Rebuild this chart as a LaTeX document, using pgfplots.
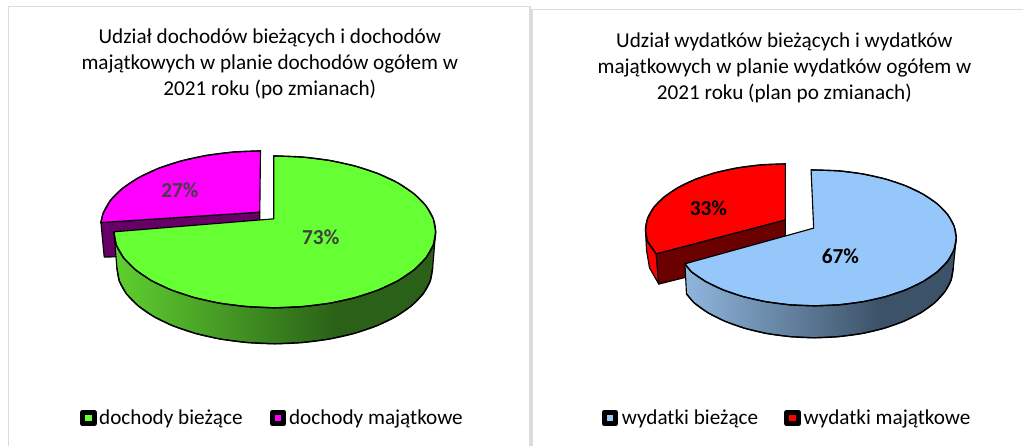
\documentclass[border=0pt]{standalone}
\usepackage{fontspec}
\setmainfont{Carlito}
\usepackage{pgfplots}
\pgfplotsset{compat=1.18}

\definecolor{gtop}{HTML}{66FF33}
\definecolor{mtop}{HTML}{FF00FF}
\definecolor{mside}{HTML}{660066}
\definecolor{btop}{HTML}{95C7FB}
\definecolor{rtop}{HTML}{FF0000}
\definecolor{rside}{HTML}{6B0000}
\definecolor{panel}{HTML}{DCDCDC}
\definecolor{lab}{HTML}{404040}
\definecolor{gwl}{HTML}{5FD030}
\definecolor{gwd}{HTML}{2A6018}
\definecolor{bwl}{HTML}{90B6DE}
\definecolor{bwd}{HTML}{3C5268}

\pgfdeclarehorizontalshading{greenwall}{100bp}{
  color(0bp)=(gwl);
  color(25bp)=(gwl);
  color(60bp)=(gwd);
  color(100bp)=(gwd)}
\pgfdeclarehorizontalshading{bluewall}{100bp}{
  color(0bp)=(bwl);
  color(25bp)=(bwl);
  color(61bp)=(bwd);
  color(100bp)=(bwd)}

\tikzset{
  edge/.style={draw=black, line width=0.85pt, line join=round},
  rim/.style={draw=black, line width=1pt, smooth, line cap=round},
  swatch/.style={draw=black, line width=3.75pt, line join=round},
  tline/.style={font=\fontsize{15.9}{18}\selectfont, inner sep=0pt, anchor=center, text=black},
  lline/.style={font=\fontsize{15.9}{18}\selectfont, inner sep=0pt, anchor=west, text=black},
  plab/.style={font=\fontsize{16}{18}\selectfont\bfseries, inner sep=0pt}
}

\begin{document}
\begin{tikzpicture}
\begin{axis}[
  scale only axis,
  width=768pt,
  height=334.5pt,
  xmin=0, xmax=1024,
  ymin=0, ymax=446,
  y dir=reverse,
  hide axis,
  clip=false
]
% keeps the page at the full plot area
\addplot[draw=none] coordinates {(0,0) (1024,446)};
% panel frames
\addplot[panel, line width=1.2pt] coordinates {(8.5,446) (8.5,6.5) (530.5,6.5) (530.5,446)};
\addplot[panel, line width=1.2pt] coordinates {(532.5,446) (532.5,9.5) (1024,9.5)};

% left pie: inner wall of the pulled slice
\addplot[edge, fill=mside] coordinates {(101,222.7) (260,212.3) (260,225) (117,257) (104.3,257.3)} --cycle;
% 27 %
\addplot[edge, fill=mtop] coordinates {
  (260,212.3) (260.7,151) (234,152.1) (206.9,155.5) (181.5,161) (158.5,168.5)
  (138.7,177.8) (122.6,188.5) (110.7,200.3) (103.4,213) (101,222.7)} --cycle;
\addplot[rim] coordinates {
  (260.7,151) (234,152.1) (206.9,155.5) (181.5,161) (158.5,168.5)
  (138.7,177.8) (122.6,188.5) (110.7,200.3) (103.4,213) (101,222.7)};
% green wall
\addplot[edge, shading=greenwall] coordinates {
  (436,232) (433.6,245.2) (426.3,258) (414.4,270) (398.3,280.9) (378.5,290.2)
  (355.5,297.8) (330.1,303.4) (303,306.8) (275,308) (247,306.8) (219.9,303.4)
  (194.5,297.8) (171.5,290.2) (151.7,280.9) (135.6,270) (123.7,258) (116.4,245.2) (114,232)
  (117,268) (119.4,281.2) (126.5,294) (138.2,306) (154,316.9) (173.4,326.2) (196,333.8)
  (221,339.4) (247.6,342.8) (275,344) (302.4,342.8) (329,339.4) (354,333.8) (376.6,326.2)
  (396,316.9) (411.8,306) (423.5,294) (430.6,281.2) (433,268)} --cycle;
\addplot[rim] coordinates {
  (117,268) (119.4,281.2) (126.5,294) (138.2,306) (154,316.9) (173.4,326.2) (196,333.8)
  (221,339.4) (247.6,342.8) (275,344) (302.4,342.8) (329,339.4) (354,333.8) (376.6,326.2)
  (396,316.9) (411.8,306) (423.5,294) (430.6,281.2) (433,268)};
% 73 %
\addplot[edge, fill=gtop] coordinates {
  (274,219) (274,156) (303,157.2) (330.1,160.6) (355.5,166.2) (378.5,173.8) (398.3,183.1)
  (414.4,194) (426.3,206) (433.6,218.8) (436,232) (433.6,245.2) (426.3,258) (414.4,270)
  (398.3,280.9) (378.5,290.2) (355.5,297.8) (330.1,303.4) (303,306.8) (275,308) (247,306.8)
  (219.9,303.4) (194.5,297.8) (171.5,290.2) (151.7,280.9) (135.6,270) (123.7,258)
  (116.4,245.2) (114,232)} --cycle;
\addplot[rim] coordinates {
  (274,156) (303,157.2) (330.1,160.6) (355.5,166.2) (378.5,173.8) (398.3,183.1)
  (414.4,194) (426.3,206) (433.6,218.8) (436,232) (433.6,245.2) (426.3,258) (414.4,270)
  (398.3,280.9) (378.5,290.2) (355.5,297.8) (330.1,303.4) (303,306.8) (275,308) (247,306.8)
  (219.9,303.4) (194.5,297.8) (171.5,290.2) (151.7,280.9) (135.6,270) (123.7,258)
  (116.4,245.2) (114,232)};

% right pie: walls of the pulled slice
\addplot[edge, fill=rtop] coordinates {
  (646,230) (648.1,241.5) (656.7,254) (659.3,284.3) (650,268) (647,250)} --cycle;
\addplot[edge, fill=rside] coordinates {
  (656.7,254) (786,220) (786,236.2) (700,270) (685.5,277.7) (659.3,284.3)} --cycle;
% 33 %
\addplot[edge, fill=rtop] coordinates {
  (786,220) (786,164) (761.7,165) (738.1,168) (716,172.8) (696,179.4) (678.8,187.6)
  (664.8,197) (654.4,207.4) (648.1,218.5) (646,230) (648.1,241.5) (656.7,254)} --cycle;
\addplot[rim] coordinates {
  (786,164) (761.7,165) (738.1,168) (716,172.8) (696,179.4) (678.8,187.6)
  (664.8,197) (654.4,207.4) (648.1,218.5) (646,230) (648.1,241.5) (656.7,254)};
% blue wall
\addplot[edge, shading=bluewall] coordinates {
  (957,238) (954.8,249.8) (948.4,261.3) (938,272) (923.8,281.7) (906.3,290.1) (886,296.9)
  (863.6,301.9) (839.7,305) (815,306) (790.3,305) (766.4,301.9) (744,296.9) (723.7,290.1)
  (706.2,281.7) (692,272) (685.5,264)
  (687,294) (694.6,303) (708.5,313) (725.7,321.6) (745.5,328.6) (767.5,333.8) (790.9,336.9)
  (815,338) (839.1,336.9) (862.5,333.8) (884.5,328.6) (904.3,321.6) (921.5,313) (935.4,303)
  (945.6,291.9) (951.9,280.2) (954,268)} --cycle;
\addplot[rim] coordinates {
  (687,294) (694.6,303) (708.5,313) (725.7,321.6) (745.5,328.6) (767.5,333.8) (790.9,336.9)
  (815,338) (839.1,336.9) (862.5,333.8) (884.5,328.6) (904.3,321.6) (921.5,313) (935.4,303)
  (945.6,291.9) (951.9,280.2) (954,268)};
% 67 %
\addplot[edge, fill=btop] coordinates {
  (814.3,228.3) (811.7,170) (839.7,171) (863.6,174.1) (886,179.1) (906.3,185.9) (923.8,194.3)
  (938,204) (948.4,214.7) (954.8,226.2) (957,238) (954.8,249.8) (948.4,261.3) (938,272)
  (923.8,281.7) (906.3,290.1) (886,296.9) (863.6,301.9) (839.7,305) (815,306) (790.3,305)
  (766.4,301.9) (744,296.9) (723.7,290.1) (706.2,281.7) (692,272) (685.5,264)} --cycle;
\addplot[rim] coordinates {
  (811.7,170) (839.7,171) (863.6,174.1) (886,179.1) (906.3,185.9) (923.8,194.3)
  (938,204) (948.4,214.7) (954.8,226.2) (957,238) (954.8,249.8) (948.4,261.3) (938,272)
  (923.8,281.7) (906.3,290.1) (886,296.9) (863.6,301.9) (839.7,305) (815,306) (790.3,305)
  (766.4,301.9) (744,296.9) (723.7,290.1) (706.2,281.7) (692,272) (685.5,264)};

% legend swatches
\addplot[swatch, fill=gtop] coordinates {(82.5,412.5) (94.2,412.5) (94.2,424.2) (82.5,424.2)} --cycle;
\addplot[swatch, fill=mtop] coordinates {(272.5,412.5) (284.2,412.5) (284.2,424.2) (272.5,424.2)} --cycle;
\addplot[swatch, fill=btop] coordinates {(604.5,412.5) (616.2,412.5) (616.2,424.2) (604.5,424.2)} --cycle;
\addplot[swatch, fill=rtop] coordinates {(787.5,412.5) (799.2,412.5) (799.2,424.2) (787.5,424.2)} --cycle;

% titles
\node[tline] at (axis cs:270,38) {Udział dochodów bieżących i dochodów};
\node[tline] at (axis cs:270,64) {majątkowych w planie dochodów ogółem w};
\node[tline] at (axis cs:270,90) {2021 roku (po zmianach)};
\node[tline] at (axis cs:785,42) {Udział wydatków bieżących i wydatków};
\node[tline] at (axis cs:785,68) {majątkowych w planie wydatków ogółem w};
\node[tline] at (axis cs:785,94) {2021 roku (plan po zmianach)};

% slice labels
\node[plab, text=lab] at (axis cs:180,190) {27\%};
\node[plab, text=lab] at (axis cs:321,237) {73\%};
\node[plab, text=black] at (axis cs:709,208) {33\%};
\node[plab, text=black] at (axis cs:841,256) {67\%};

% legend texts
\node[lline] at (axis cs:99,419) {dochody bieżące};
\node[lline] at (axis cs:289,419) {dochody majątkowe};
\node[lline] at (axis cs:622,419) {wydatki bieżące};
\node[lline] at (axis cs:804,419) {wydatki majątkowe};
\end{axis}
\end{tikzpicture}
\end{document}
